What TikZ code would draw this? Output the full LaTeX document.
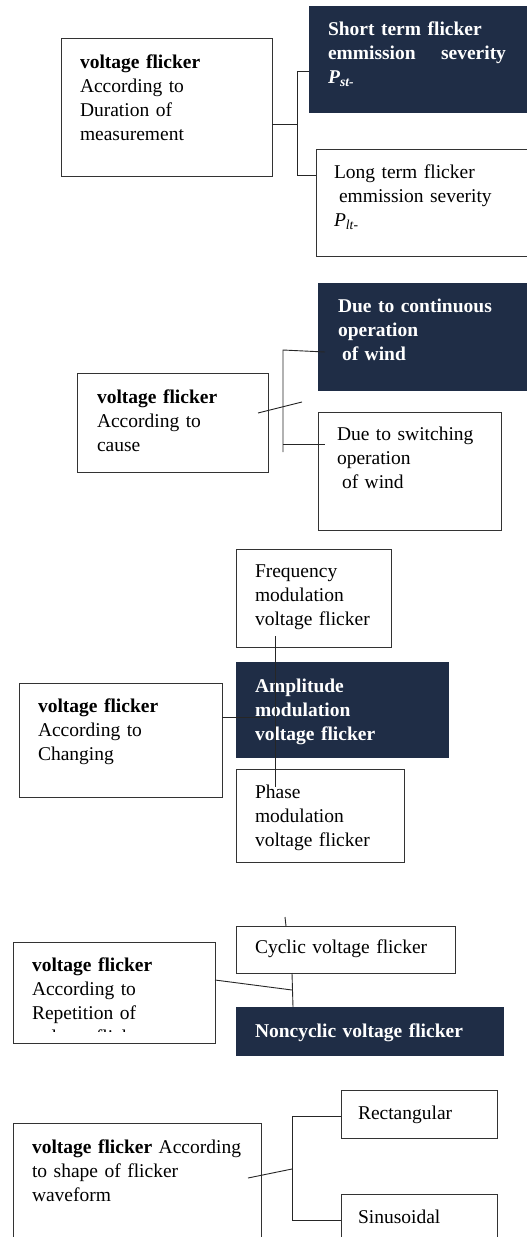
\documentclass[tikz,border=0pt]{standalone}
\usepackage{fontspec}
\setmainfont{Liberation Serif}
\usepackage{tikz}
\usetikzlibrary{positioning}
\definecolor{navybox}{HTML}{1F2D46}

\tikzset{
  box/.style={draw=black!80, line width=0.8pt, anchor=north west, align=left,
    inner xsep=19pt, inner ysep=0pt, outer sep=0pt,
    font=\fontsize{19.5}{24}\selectfont},
  darkbox/.style={box, draw=navybox, fill=navybox, text=white,
    font=\fontsize{19.5}{24}\selectfont\bfseries},
  link/.style={line width=0.9pt, black!85}
}

\begin{document}
\begin{tikzpicture}[x=1pt,y=-1pt]
    \useasboundingbox (0,0) rectangle (527,1237);
    \clip (0,0) rectangle (527,1237);

    % duration of measurement
    \node[box, text width=173pt, text height=30pt, text depth=108pt] (dur) at (61,38)
        {\textbf{voltage flicker}\\According to\\Duration of\\measurement};
    \node[darkbox, text width=198pt, text height=29pt, text depth=77pt] (pst) at (309,6)
        {Short term flicker\\\leavevmode\hbox to 178pt{emmission\hfil severity}\\\textit{P}\textsubscript{\textit{st-}}};
    \node[box, inner xsep=18pt, text width=193pt, text height=29pt, text depth=78pt] (plt) at (316,149)
        {Long term flicker\\\hspace*{5pt}emmission severity\\\textit{P}\textsubscript{\textit{lt-}}};
    \coordinate (t1) at (297,71);
    \coordinate (u1) at (297,175);
    \draw[link] (dur.east |- 0,124) -- (t1 |- 0,124);
    \draw[link] (pst.west |- t1) -- (t1) -- (u1) -- (plt.west |- u1);

    % cause
    \node[box, inner xsep=20pt, text width=151pt, text height=30pt, text depth=69pt] (cause) at (77,373)
        {\textbf{voltage flicker}\\According to\\cause};
    \node[darkbox, inner xsep=20pt, text width=187pt, text height=29pt, text depth=78pt] (cont) at (318,283)
        {Due to continuous\\operation\\\hspace*{4pt}of wind};
    \node[box, text width=145pt, text height=28pt, text depth=90pt] (swit) at (318,412)
        {Due to switching\\operation\\\hspace*{5pt}of wind};
    \coordinate (t2) at (283,350);
    \coordinate (t2e) at (325,352);
    \coordinate (u2) at (283,452);
    \coordinate (m2) at (283,444);
    \coordinate (m2e) at (325,444);
    \coordinate (s2a) at (258,413);
    \coordinate (s2b) at (302,402);
    \draw[link] (t2e) -- (t2) -- (u2);
    \draw[link] (m2) -- (m2e);
    \draw[link] (s2a) -- (s2b);

    % changing
    \node[box, text width=117pt, text height=28pt, text depth=70pt] (freq) at (236,549)
        {Frequency\\modulation\\voltage flicker};
    \node[darkbox, text width=174pt, text height=30pt, text depth=65pt] (ampl) at (236,662)
        {Amplitude\\modulation\\voltage flicker};
    \node[box, text width=165pt, text height=29pt, text depth=85pt] (chg) at (19,683)
        {\textbf{voltage flicker}\\According to\\Changing};
    \node[box, text width=130pt, text height=29pt, text depth=64pt] (phase) at (236,769)
        {Phase\\modulation\\voltage flicker};
    \coordinate (v3a) at (275,636);
    \coordinate (v3b) at (275,787);
    \coordinate (h3) at (267,717);
    \draw[link] (v3a) -- (v3b);
    \draw[link] (chg.east |- h3) -- (h3);

    % repetition
    \begin{scope}
        \clip (0,900) rectangle (260,1031);
        \node[box, draw=none, text width=164pt, text height=29pt, text depth=72pt] (rep) at (13,942)
            {\textbf{voltage flicker}\\According to\\Repetition of\\voltage flicker};
    \end{scope}
    \draw[black!80, line width=0.8pt] (rep.north west) rectangle (rep.south east);
    \node[box, text width=181pt, text height=27pt, text depth=20pt] (cyc) at (236,926)
        {Cyclic voltage flicker};
    \node[darkbox, text width=229pt, text height=30pt, text depth=18pt] (noncyc) at (236,1007)
        {Noncyclic voltage flicker};
    \coordinate (j4) at (292,990);
    \coordinate (k4a) at (285,917);
    \coordinate (k4b) at (286,926);
    \draw[link] (rep.east |- 0,980) -- (j4);
    \draw[link] (cyc.south -| j4) -- (noncyc.north -| 293,0);
    \draw[link] (k4a) -- (k4b);

    % shape of waveform
    \node[box, text width=210pt, text height=30pt, text depth=110pt] (shape) at (13,1123)
        {\textbf{voltage flicker} According\\to shape of flicker\\waveform};
    \node[box, inner xsep=17pt, text width=122pt, text height=29pt, text depth=19pt] (rect) at (341,1090)
        {Rectangular};
    \node[box, inner xsep=17pt, text width=122pt, text height=29pt, text depth=40pt] (sinus) at (341,1194)
        {Sinusoidal};
    \coordinate (t5) at (292,1116);
    \coordinate (u5) at (292,1220);
    \coordinate (s5a) at (248,1178);
    \coordinate (s5b) at (292,1169);
    \draw[link] (rect.west |- t5) -- (t5) -- (u5) -- (sinus.west |- u5);
    \draw[link] (s5a) -- (s5b);
\end{tikzpicture}
\end{document}
